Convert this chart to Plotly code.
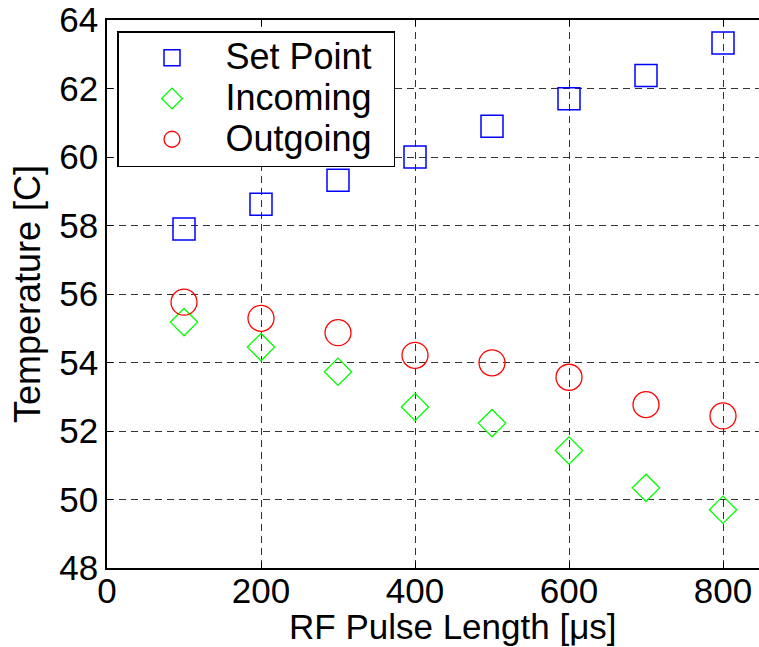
import plotly.graph_objects as go

pulse_length = [100, 200, 300, 400, 500, 600, 700, 800]
set_point = [57.9, 58.62, 59.32, 60.0, 60.9, 61.7, 62.38, 63.33]
incoming = [55.18, 54.45, 53.73, 52.7, 52.23, 51.43, 50.34, 49.7]
outgoing = [55.76, 55.29, 54.87, 54.21, 53.99, 53.57, 52.77, 52.44]

x_ticks = [0, 200, 400, 600, 800]
y_ticks = [48, 50, 52, 54, 56, 58, 60, 62, 64]
series_names = ["Set Point", "Incoming", "Outgoing"]

FONT = "Liberation Sans, Arial, sans-serif"
FS = 35


def big(name):
    return ("<span style='font-size:36px'>" + name + "</span>"
            "<span style='font-size:60px'>\u00a0</span>")


fig = go.Figure()
fig.add_trace(go.Scatter(x=pulse_length, y=set_point, mode="markers", name=big(series_names[0]),
                         marker=dict(symbol="square-open", size=22, color="#0000ff",
                                     line=dict(width=1.5, color="#0000ff"))))
fig.add_trace(go.Scatter(x=pulse_length, y=incoming, mode="markers", name=big(series_names[1]),
                         marker=dict(symbol="diamond-open", size=21, color="#00ff00",
                                     line=dict(width=1.3, color="#00ff00"))))
fig.add_trace(go.Scatter(x=pulse_length, y=outgoing, mode="markers", name=big(series_names[2]),
                         marker=dict(symbol="circle-open", size=26, color="#ff0000",
                                     line=dict(width=1.3, color="#ff0000"))))

W, H = 759, 647
L, T = 107, 20
B = 647 - 568
R = 0
PW, PH = W - L - R, H - T - B
px_per_unit = 154 / 200.0
x_max = PW / px_per_unit


def fx(px):
    return (px - L) / PW


def fy(py):
    return 1 - (py - T) / PH


fig.update_layout(
    width=W, height=H,
    margin=dict(l=L, r=R, t=T, b=B, pad=0, autoexpand=False),
    paper_bgcolor="white", plot_bgcolor="white",
    font=dict(family=FONT, size=FS, color="black"),
    showlegend=True,
    legend=dict(x=fx(117), y=fy(31), xanchor="left", yanchor="top",
                bgcolor="white", bordercolor="black", borderwidth=1.5,
                itemwidth=97,
                font=dict(family=FONT, size=29, color="black"),
                tracegroupgap=0),
    xaxis=dict(range=[0, x_max], tickvals=x_ticks, ticktext=[str(v) for v in x_ticks],
               automargin=False, ticklabeloverflow="allow", ticklabelstandoff=-9,
               showgrid=True, gridcolor="#333333", griddash="7px,5px", gridwidth=1,
               zeroline=False, showline=True, linecolor="black", linewidth=1.5,
               mirror="ticks", ticks="inside", ticklen=6, tickcolor="black",
               tickfont=dict(family=FONT, size=FS)),
    yaxis=dict(range=[48, 64], tickvals=y_ticks, ticktext=[str(v) for v in y_ticks],
               automargin=False, ticklabeloverflow="allow",
               showgrid=True, gridcolor="#333333", griddash="7px,5px", gridwidth=1,
               zeroline=False, showline=True, linecolor="black", linewidth=1.5,
               mirror=False, ticks="inside", ticklen=6, tickcolor="black",
               tickfont=dict(family=FONT, size=FS),
               title=dict(text="Temperature [C]", font=dict(family=FONT, size=36), standoff=8)),
    annotations=[dict(text="RF Pulse Length [\u03bcs]", xref="paper", yref="paper",
                      x=fx(453), y=fy(605),
                      xanchor="center", yanchor="top", showarrow=False,
                      font=dict(family=FONT, size=FS, color="black"))],
)

fig.write_html("out.html", config={"displayModeBar": False},
               post_script="document.body.style.margin='0';document.body.style.overflow='hidden';")
